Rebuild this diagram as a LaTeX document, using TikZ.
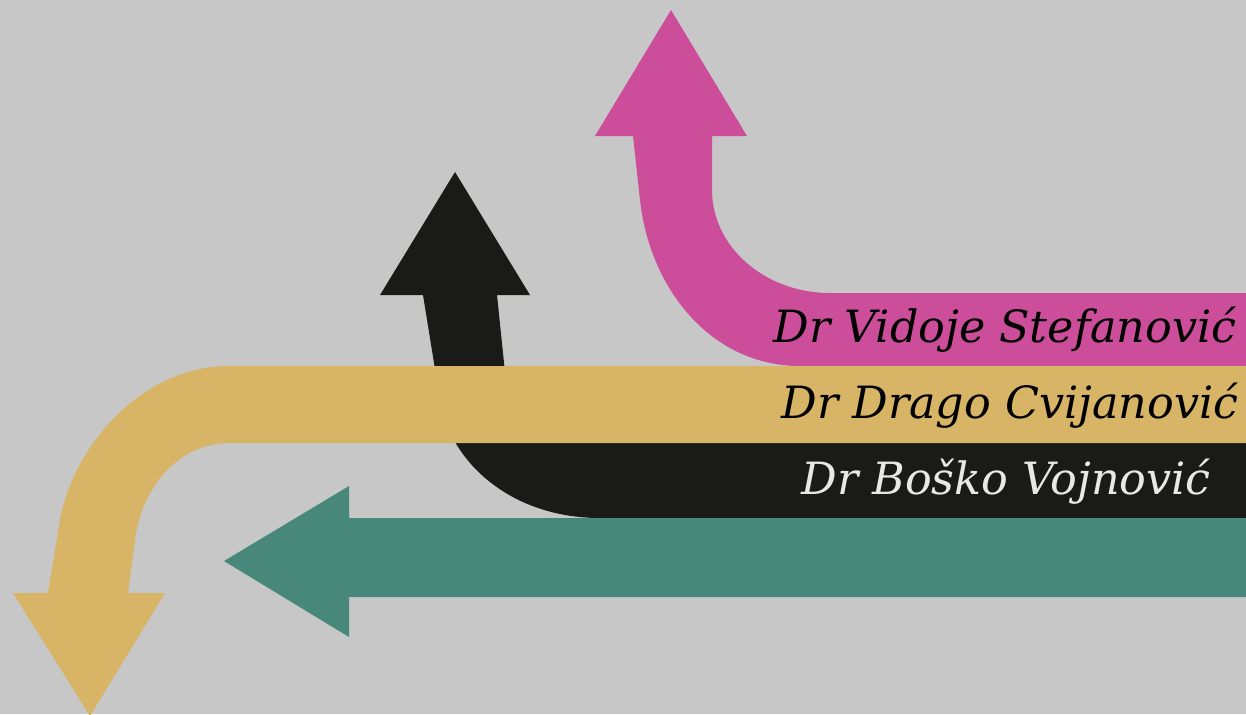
\documentclass[tikz,border=0pt]{standalone}
\usepackage{fontspec}
\setmainfont{Liberation Serif}
\newfontfamily\namefont{DejaVu Serif}
\usepackage{xcolor}

\definecolor{backgray}{RGB}{198,199,198}
\definecolor{arrowpink}{RGB}{204,78,155}
\definecolor{arrowyellow}{RGB}{216,180,102}
\definecolor{arrowblack}{RGB}{26,26,24}
\definecolor{arrowteal}{RGB}{72,136,122}
\definecolor{lightname}{RGB}{232,232,232}

\begin{document}
\begin{tikzpicture}[x=0.02cm, y=-0.02cm,
    name label/.style={inner sep=0pt, font=\namefont\fontsize{25.3}{30}\selectfont\itshape}]
    \useasboundingbox (0,0) rectangle (1246,714);
    \fill[backgray] (0,0) rectangle (1246,714);
    % black arrow, up
    \fill[arrowblack] (1246,440) -- (512,440) -- (497,295) -- (530,295) -- (455,172)
      -- (380,295) -- (423,295) -- (440,400)
      .. controls (450,463) and (512,518) .. (600,518) -- (1246,518) -- cycle;
    % teal arrow, left
    \fill[arrowteal] (1246,518) -- (349,518) -- (349,486) -- (224,561)
      -- (349,637) -- (349,597) -- (1246,597) -- cycle;
    % pink arrow, up
    \fill[arrowpink] (1246,293) -- (830,293)
      .. controls (765,293) and (712,247) .. (712,190) -- (712,136) -- (747,136)
      -- (671,10) -- (595,136) -- (633,136) -- (640,200)
      .. controls (650,290) and (712,366) .. (800,366) -- (1246,366) -- cycle;
    % yellow arrow, down
    \fill[arrowyellow] (1246,366) -- (230,366)
      .. controls (136,366) and (71,454) .. (60,520) -- (48,593) -- (13,593)
      -- (90,716) -- (165,593) -- (128,593) -- (135,540)
      .. controls (142,487) and (178,443) .. (230,443) -- (1246,443) -- cycle;
    % names
    \node[name label, text=black]     (vidoje) at (1005,330) {Dr Vidoje Stefanović};
    \node[name label, text=black]     (drago)  at (1010,406) {Dr Drago Cvijanović};
    \node[name label, text=lightname] (bosko)  at (1006,482) {Dr Boško Vojnović};
\end{tikzpicture}
\end{document}
